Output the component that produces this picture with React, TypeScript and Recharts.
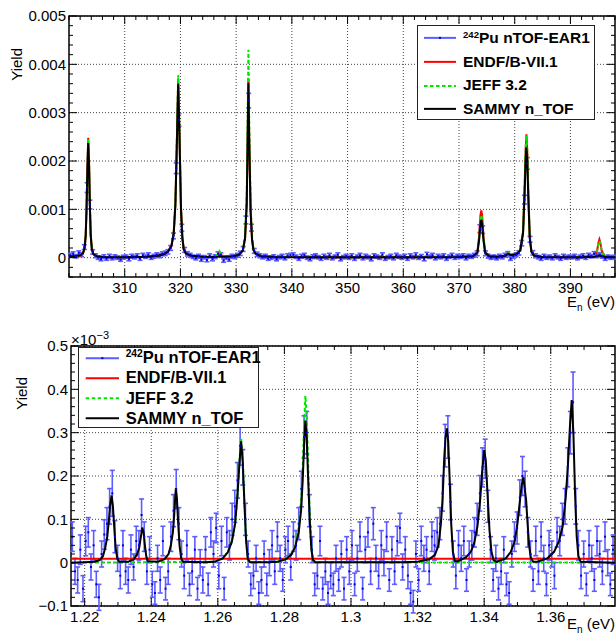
import React from "react";
import {
  CartesianGrid,
  ComposedChart,
  ErrorBar,
  Legend,
  Line,
  ReferenceArea,
  Scatter,
  XAxis,
  YAxis,
} from "recharts";

const FONT = '"Liberation Sans", Arial, Helvetica, sans-serif';

const DATA_BAR = "#5c5cff";
const DATA_DOT = "#0000dd";
const ENDF_COLOR = "#ff0000";
const JEFF_COLOR = "#00e600";
const SAMMY_COLOR = "#000000";

// ---------- top panel (300-398 eV), yields in units of 1e-3 ----------
const TOP_BIN_START = 300.25;
const TOP_BIN_WIDTH = 0.5;

const TOP_YIELD = [
  0.05, 0.08, 0.03, 0.10, 0.06, 0.22, 1.45, 1.10, 0.12, 0.04, 0.00, -0.03, 0.02, -0.02, 0.03, -0.01, 0.02, 0.00, -0.04, 0.01,
  0.02, -0.03, 0.03, 0.01, 0.04, -0.02, 0.05, 0.02, 0.06, 0.00, 0.03, 0.06, 0.04, 0.08, 0.09, 0.12, 0.20, 0.45, 1.85, 2.85,
  0.62, 0.16, 0.08, 0.05, 0.02, -0.01, 0.03, -0.04, 0.01, -0.05, 0.04, -0.03, 0.02, 0.08, 0.06, -0.06, 0.00, -0.04, 0.03, 0.02,
  0.05, 0.09, 0.18, 0.78, 3.25, 0.62, 0.14, 0.07, 0.04, 0.01, 0.03, -0.02, 0.00, 0.02, -0.03, 0.01, 0.03, -0.01, 0.04, 0.05,
  0.06, 0.02, -0.02, 0.03, 0.05, 0.00, -0.03, 0.02, 0.04, 0.01, -0.02, 0.03, 0.00, 0.05, -0.01, 0.02, 0.06, -0.03, 0.01, 0.03,
  0.00, 0.04, -0.02, 0.02, 0.05, -0.01, 0.03, 0.01, -0.03, 0.04, 0.02, 0.00, 0.06, -0.02, 0.01, 0.03, -0.01, 0.05, 0.02, 0.00,
  0.03, -0.02, 0.04, 0.01, 0.06, 0.00, 0.03, -0.03, 0.07, 0.02, 0.05, -0.01, 0.03, 0.01, 0.04, -0.02, 0.02, 0.05, 0.00, 0.03,
  0.02, 0.04, -0.01, 0.03, 0.02, 0.05, 0.09, 0.60, 0.58, 0.09, 0.03, 0.00, 0.02, -0.01, 0.03, 0.01, 0.05, 0.08, -0.02, 0.03,
  0.06, 0.10, 0.30, 1.20, 1.95, 0.38, 0.10, 0.04, 0.01, -0.02, 0.03, 0.00, 0.02, -0.01, 0.04, 0.01, -0.02, 0.03, 0.00, 0.02,
  0.01, 0.03, -0.01, 0.02, 0.04, 0.00, 0.05, 0.03, 0.08, 0.04, 0.06, 0.03, -0.02, 0.02, 0.00, 0.01,
];

const TOP_ERR = [
  0.04, 0.04, 0.035, 0.04, 0.04, 0.05, 0.1, 0.09, 0.045, 0.04, 0.035, 0.035, 0.04, 0.035, 0.04, 0.035, 0.04, 0.035, 0.035, 0.04,
  0.035, 0.035, 0.04, 0.035, 0.04, 0.035, 0.04, 0.035, 0.04, 0.035, 0.04, 0.04, 0.04, 0.04, 0.045, 0.045, 0.05, 0.06, 0.11, 0.13,
  0.07, 0.05, 0.045, 0.04, 0.035, 0.035, 0.04, 0.035, 0.035, 0.035, 0.04, 0.035, 0.04, 0.04, 0.04, 0.035, 0.035, 0.035, 0.04, 0.04,
  0.04, 0.045, 0.05, 0.08, 0.15, 0.07, 0.05, 0.045, 0.04, 0.035, 0.04, 0.035, 0.035, 0.04, 0.035, 0.035, 0.04, 0.035, 0.04, 0.04,
  0.04, 0.035, 0.035, 0.04, 0.04, 0.035, 0.035, 0.04, 0.04, 0.035, 0.035, 0.04, 0.035, 0.04, 0.035, 0.035, 0.04, 0.035, 0.035, 0.04,
  0.035, 0.04, 0.035, 0.035, 0.04, 0.035, 0.04, 0.035, 0.035, 0.04, 0.035, 0.035, 0.04, 0.035, 0.035, 0.04, 0.035, 0.04, 0.035, 0.035,
  0.04, 0.035, 0.04, 0.035, 0.04, 0.035, 0.035, 0.035, 0.04, 0.035, 0.04, 0.035, 0.04, 0.035, 0.04, 0.035, 0.035, 0.04, 0.035, 0.04,
  0.035, 0.04, 0.035, 0.04, 0.035, 0.04, 0.05, 0.08, 0.08, 0.05, 0.04, 0.035, 0.035, 0.035, 0.04, 0.035, 0.04, 0.045, 0.035, 0.04,
  0.04, 0.045, 0.055, 0.09, 0.12, 0.06, 0.045, 0.04, 0.035, 0.035, 0.04, 0.035, 0.035, 0.035, 0.04, 0.035, 0.035, 0.04, 0.035, 0.035,
  0.035, 0.04, 0.035, 0.035, 0.04, 0.035, 0.04, 0.035, 0.045, 0.04, 0.045, 0.04, 0.035, 0.035, 0.035, 0.04,
];

// [E, SAMMY, ENDF, JEFF]
const TOP_CURVE: [number, number, number, number][] = [
  [300.0, 0.03, 0.02, 0.02], [301.0, 0.03, 0.02, 0.02], [302.0, 0.05, 0.04, 0.04],
  [302.5, 0.09, 0.08, 0.08], [302.8, 0.2, 0.2, 0.2], [303.0, 0.45, 0.48, 0.47],
  [303.15, 1.0, 1.05, 1.03], [303.3, 1.8, 1.9, 1.86], [303.45, 2.37, 2.48, 2.45],
  [303.6, 1.9, 2.0, 1.97], [303.75, 1.05, 1.1, 1.08], [303.9, 0.45, 0.48, 0.47],
  [304.1, 0.18, 0.19, 0.19], [304.4, 0.07, 0.07, 0.07], [305.0, 0.03, 0.03, 0.03],
  [306.0, 0.015, 0.015, 0.015], [310.0, 0.01, 0.01, 0.01], [314.0, 0.02, 0.02, 0.02],
  [316.0, 0.04, 0.04, 0.04], [317.0, 0.07, 0.07, 0.07], [317.8, 0.13, 0.13, 0.13],
  [318.4, 0.25, 0.26, 0.26], [318.8, 0.5, 0.52, 0.53], [319.1, 1.1, 1.13, 1.15],
  [319.35, 2.3, 2.36, 2.4], [319.6, 3.6, 3.7, 3.78], [319.85, 2.4, 2.46, 2.5],
  [320.1, 1.0, 1.03, 1.05], [320.35, 0.4, 0.41, 0.42], [320.6, 0.17, 0.17, 0.17],
  [321.0, 0.08, 0.08, 0.08], [322.0, 0.04, 0.04, 0.04], [324.0, 0.02, 0.02, 0.02],
  [326.0, 0.015, 0.02, 0.02], [326.7, 0.02, 0.05, 0.06], [327.0, 0.03, 0.1, 0.13],
  [327.3, 0.02, 0.05, 0.06], [328.0, 0.02, 0.02, 0.02], [329.5, 0.03, 0.03, 0.03],
  [330.5, 0.06, 0.06, 0.06], [331.2, 0.15, 0.15, 0.16], [331.6, 0.4, 0.41, 0.47],
  [331.9, 1.1, 1.13, 1.3], [332.05, 2.3, 2.36, 2.7], [332.2, 3.62, 3.7, 4.3],
  [332.35, 2.4, 2.46, 2.85], [332.6, 0.95, 0.97, 1.12], [332.85, 0.38, 0.39, 0.44],
  [333.1, 0.16, 0.16, 0.18], [333.5, 0.08, 0.08, 0.08], [334.5, 0.03, 0.03, 0.03],
  [337.0, 0.015, 0.015, 0.015], [345.0, 0.01, 0.01, 0.01], [360.0, 0.01, 0.01, 0.01],
  [370.0, 0.015, 0.015, 0.015], [372.5, 0.03, 0.03, 0.03], [373.3, 0.1, 0.12, 0.11],
  [373.6, 0.35, 0.43, 0.39], [373.85, 0.7, 0.88, 0.8], [374.0, 0.78, 0.98, 0.88],
  [374.15, 0.7, 0.88, 0.8], [374.4, 0.35, 0.43, 0.39], [374.7, 0.1, 0.12, 0.11],
  [375.5, 0.03, 0.03, 0.03], [377.0, 0.02, 0.02, 0.02], [378.3, 0.04, 0.04, 0.04],
  [378.8, 0.08, 0.1, 0.1], [379.3, 0.05, 0.06, 0.06], [380.3, 0.07, 0.07, 0.07],
  [381.0, 0.15, 0.16, 0.16], [381.5, 0.5, 0.55, 0.55], [381.8, 1.4, 1.55, 1.55],
  [381.95, 2.0, 2.22, 2.22], [382.1, 2.28, 2.55, 2.53], [382.25, 2.0, 2.22, 2.22],
  [382.45, 1.2, 1.33, 1.33], [382.7, 0.4, 0.44, 0.44], [383.0, 0.12, 0.13, 0.13],
  [383.5, 0.04, 0.04, 0.04], [385.0, 0.015, 0.015, 0.015], [392.0, 0.01, 0.01, 0.01],
  [394.3, 0.02, 0.03, 0.03], [394.8, 0.03, 0.15, 0.14], [395.05, 0.04, 0.32, 0.3],
  [395.2, 0.05, 0.38, 0.35], [395.35, 0.04, 0.32, 0.3], [395.6, 0.03, 0.15, 0.14],
  [396.1, 0.02, 0.03, 0.03], [398.0, 0.01, 0.01, 0.01],
];

// ---------- bottom panel (1.216-1.379), yields in units of 1e-3 ----------
const BOT_BIN_START = 1.2163;
const BOT_BIN_WIDTH = 0.0008;

const BOT_YIELD = [
  0.06, -0.02, -0.04, 0.03, -0.06, 0.05, 0.07, -0.01, 0.04, -0.05, -0.08, 0.02, 0.065, 0.09, 0.13, 0.16, 0.06, 0.01, -0.03, 0.04, -0.02, -0.04, 0.03, -0.01, 0.05,
  0.04, 0.11, 0.06, -0.02, 0.03, -0.05, -0.07, 0.01, -0.04, 0.05, -0.06, -0.02, 0.06, 0.12, 0.17, 0.09, 0.02, -0.03, 0.04, -0.05, -0.02, 0.03, -0.06, 0.00, -0.04,
  0.03, -0.05, 0.07, 0.02, 0.08, -0.03, 0.05, -0.06, 0.07, 0.04, 0.10, 0.13, 0.19, 0.27, 0.22, 0.10, 0.02, -0.05, -0.03, 0.01, -0.07, -0.04, 0.02, -0.05, 0.00,
  0.04, -0.02, 0.06, 0.01, -0.04, 0.03, 0.05, -0.01, 0.06, 0.04, 0.09, 0.17, 0.29, 0.30, 0.12, 0.03, -0.05, -0.03, 0.05, -0.06, -0.02, -0.07, -0.03, -0.05, 0.01,
  -0.04, 0.02, -0.06, 0.03, -0.02, 0.04, -0.05, 0.01, 0.06, -0.06, 0.03, 0.07, -0.02, 0.09, 0.01, -0.03, 0.04, 0.00, 0.06, -0.04, 0.03, -0.02, 0.05, 0.08, -0.01,
  0.03, -0.03, -0.07, -0.09, 0.02, -0.04, 0.05, 0.01, 0.03, -0.02, 0.06, 0.04, 0.07, 0.09, 0.16, 0.27, 0.29, 0.14, 0.02, -0.03, 0.04, 0.01, 0.05, -0.04, 0.02,
  0.04, 0.07, 0.10, 0.16, 0.22, 0.24, 0.13, 0.03, -0.04, 0.01, -0.06, -0.02, 0.03, -0.05, -0.07, 0.02, 0.06, 0.08, 0.15, 0.20, 0.17, 0.07, 0.02, -0.04, 0.05,
  -0.02, 0.06, 0.01, -0.05, 0.04, 0.02, -0.03, 0.07, 0.05, 0.10, 0.13, 0.22, 0.30, 0.37, 0.13, 0.04, -0.03, 0.02, -0.05, 0.04, 0.01, -0.04, 0.05, 0.02, -0.02,
  0.06, 0.00, -0.05, 0.03,
];

const BOT_ERR = [
  0.034, 0.03, 0.03, 0.034, 0.03, 0.034, 0.034, 0.03, 0.034, 0.03, 0.03, 0.03, 0.034, 0.037, 0.041, 0.053, 0.037, 0.03, 0.03, 0.034, 0.03, 0.03, 0.034, 0.03, 0.034,
  0.034, 0.037, 0.034, 0.03, 0.03, 0.03, 0.026, 0.03, 0.03, 0.034, 0.026, 0.03, 0.034, 0.037, 0.045, 0.037, 0.03, 0.03, 0.034, 0.026, 0.03, 0.03, 0.026, 0.03, 0.03,
  0.03, 0.026, 0.034, 0.03, 0.034, 0.03, 0.034, 0.026, 0.034, 0.034, 0.037, 0.037, 0.041, 0.045, 0.041, 0.037, 0.03, 0.026, 0.03, 0.03, 0.026, 0.03, 0.03, 0.026, 0.03,
  0.034, 0.03, 0.034, 0.03, 0.026, 0.03, 0.034, 0.03, 0.034, 0.034, 0.037, 0.041, 0.049, 0.049, 0.037, 0.03, 0.026, 0.03, 0.034, 0.026, 0.03, 0.026, 0.03, 0.026, 0.03,
  0.026, 0.03, 0.026, 0.03, 0.03, 0.034, 0.026, 0.03, 0.034, 0.026, 0.03, 0.034, 0.03, 0.037, 0.03, 0.03, 0.034, 0.03, 0.034, 0.026, 0.03, 0.03, 0.034, 0.034, 0.03,
  0.03, 0.03, 0.026, 0.026, 0.03, 0.026, 0.034, 0.03, 0.03, 0.03, 0.034, 0.034, 0.034, 0.037, 0.041, 0.049, 0.049, 0.041, 0.03, 0.03, 0.034, 0.03, 0.034, 0.026, 0.03,
  0.034, 0.034, 0.037, 0.041, 0.045, 0.045, 0.037, 0.03, 0.026, 0.03, 0.026, 0.03, 0.03, 0.026, 0.026, 0.03, 0.034, 0.037, 0.041, 0.045, 0.041, 0.034, 0.03, 0.026, 0.034,
  0.03, 0.034, 0.03, 0.026, 0.034, 0.03, 0.03, 0.034, 0.034, 0.037, 0.041, 0.045, 0.049, 0.07, 0.041, 0.034, 0.03, 0.03, 0.026, 0.034, 0.03, 0.026, 0.034, 0.03, 0.03,
  0.034, 0.03, 0.026, 0.034,
];

const BOT_SAMMY: [number, number][] = [
  [1.2159, 0], [1.22, 0.001], [1.223, 0.002], [1.2245, 0.006], [1.2255, 0.015], [1.2262, 0.035],
  [1.2268, 0.06], [1.2273, 0.1], [1.2277, 0.135], [1.2281, 0.155], [1.2285, 0.13], [1.2289, 0.08],
  [1.2293, 0.035], [1.2298, 0.01], [1.2304, 0.002],
  [1.233, 0.002], [1.2348, 0.008], [1.2358, 0.02], [1.2364, 0.035], [1.2369, 0.06], [1.2373, 0.081],
  [1.2377, 0.07], [1.2381, 0.04], [1.2385, 0.015], [1.239, 0.003],
  [1.242, 0.002], [1.244, 0.008], [1.2452, 0.02], [1.2459, 0.04], [1.2465, 0.07], [1.2469, 0.11],
  [1.2472, 0.15], [1.2474, 0.172], [1.2477, 0.15], [1.2481, 0.09], [1.2485, 0.04], [1.249, 0.01], [1.2496, 0.002],
  [1.256, 0.001], [1.259, 0.002], [1.2615, 0.01], [1.263, 0.024], [1.2642, 0.048], [1.2652, 0.09],
  [1.2659, 0.155], [1.2665, 0.23], [1.267, 0.28], [1.2675, 0.23], [1.268, 0.135], [1.2685, 0.05],
  [1.269, 0.008], [1.2697, 0.001],
  [1.275, 0.001], [1.278, 0.002], [1.2805, 0.008], [1.282, 0.018], [1.2832, 0.035], [1.2843, 0.07],
  [1.285, 0.12], [1.2855, 0.19], [1.2859, 0.27], [1.2863, 0.328], [1.2867, 0.29], [1.2871, 0.2],
  [1.2876, 0.1], [1.2881, 0.03], [1.2886, 0.006], [1.2893, 0.001],
  [1.315, 0.001], [1.32, 0.002], [1.3235, 0.008], [1.3252, 0.018], [1.3263, 0.04], [1.327, 0.09],
  [1.3275, 0.145], [1.328, 0.24], [1.3284, 0.29], [1.3288, 0.31], [1.3292, 0.28], [1.3296, 0.2],
  [1.3301, 0.09], [1.3306, 0.025], [1.3312, 0.004], [1.332, 0.003],
  [1.3345, 0.012], [1.336, 0.025], [1.337, 0.045], [1.338, 0.085], [1.3388, 0.145], [1.3394, 0.21],
  [1.34, 0.26], [1.3405, 0.235], [1.341, 0.16], [1.3416, 0.075], [1.3422, 0.025], [1.3428, 0.006], [1.3437, 0.002],
  [1.3465, 0.01], [1.348, 0.025], [1.3492, 0.05], [1.35, 0.09], [1.3507, 0.14], [1.3513, 0.18],
  [1.3518, 0.197], [1.3522, 0.17], [1.3526, 0.145], [1.353, 0.095], [1.3535, 0.04], [1.354, 0.012], [1.3547, 0.002],
  [1.356, 0.002], [1.359, 0.01], [1.361, 0.025], [1.3625, 0.05], [1.3636, 0.085], [1.3645, 0.15],
  [1.3652, 0.23], [1.3658, 0.32], [1.3663, 0.375], [1.3668, 0.3], [1.3673, 0.16], [1.3678, 0.06],
  [1.3683, 0.015], [1.369, 0.002], [1.3793, 0],
];

const BOT_JEFF: [number, number][] = [
  [1.2159, 0], [1.259, 0.002], [1.2615, 0.01], [1.263, 0.025], [1.2642, 0.05], [1.2652, 0.092],
  [1.2659, 0.158], [1.2665, 0.235], [1.267, 0.287], [1.2675, 0.235], [1.268, 0.138], [1.2685, 0.05],
  [1.269, 0.008], [1.2697, 0.001], [1.278, 0.002], [1.2805, 0.009], [1.282, 0.02], [1.2832, 0.04],
  [1.2843, 0.08], [1.285, 0.14], [1.2855, 0.22], [1.2859, 0.315], [1.2863, 0.385], [1.2867, 0.34],
  [1.2871, 0.235], [1.2876, 0.115], [1.2881, 0.035], [1.2886, 0.007], [1.2893, 0.001], [1.3793, 0],
];

const BOT_ENDF: [number, number][] = [
  [1.2159, 0.009], [1.26, 0.009], [1.3, 0.009], [1.3793, 0.009],
];

const LEGEND_ITEMS = [
  { sup: "242", label: "Pu nTOF-EAR1", color: DATA_BAR, dash: "", dot: true },
  { sup: "", label: "ENDF/B-VII.1", color: ENDF_COLOR, dash: "", dot: false },
  { sup: "", label: "JEFF 3.2", color: JEFF_COLOR, dash: "3.5 2.5", dot: false },
  { sup: "", label: "SAMMY n_TOF", color: SAMMY_COLOR, dash: "", dot: false },
];

const TOP_X_MAJOR = [310, 320, 330, 340, 350, 360, 370, 380, 390];
const TOP_Y_MAJOR = [0, 1, 2, 3, 4, 5];
const BOT_X_MAJOR = [1.22, 1.24, 1.26, 1.28, 1.3, 1.32, 1.34, 1.36];
const BOT_Y_MAJOR = [-0.1, 0, 0.1, 0.2, 0.3, 0.4, 0.5];

function steps(from: number, to: number, step: number) {
  const out: number[] = [];
  for (let i = 0; from + i * step <= to + 1e-9; i++) {
    out.push(Math.round((from + i * step) * 1e6) / 1e6);
  }
  return out;
}

const TOP_X_MINOR = steps(300, 398, 2);
const TOP_Y_MINOR = steps(-0.4, 5, 0.2);
const BOT_X_MINOR = steps(1.22, 1.375, 0.005);
const BOT_Y_MINOR = steps(-0.1, 0.5, 0.02);

const topPoints = TOP_YIELD.map((y, i) => ({
  x: TOP_BIN_START + i * TOP_BIN_WIDTH,
  y,
  err: TOP_ERR[i],
}));
const topCurve = TOP_CURVE.map(([x, sammy, endf, jeff]) => ({ x, sammy, endf, jeff }));

const botPoints = BOT_YIELD.map((y, i) => ({
  x: BOT_BIN_START + i * BOT_BIN_WIDTH,
  y,
  err: BOT_ERR[i],
}));
const botSammy = BOT_SAMMY.map(([x, v]) => ({ x, v }));
const botJeff = BOT_JEFF.map(([x, v]) => ({ x, v }));
const botEndf = BOT_ENDF.map(([x, v]) => ({ x, v }));

const isMajor = (list: number[], v: number) => list.some((m) => Math.abs(m - v) < 1e-7);

function LegendBox({ w, h, fontSize, lineX0, lineX1, textX }: any) {
  const rowH = h / LEGEND_ITEMS.length;
  return (
    <div
      style={{
        width: w,
        height: h,
        boxSizing: "border-box",
        border: "1px solid #222",
        background: "#fff",
        fontFamily: FONT,
        fontWeight: 700,
        fontSize,
        color: "#000",
      }}
    >
      {LEGEND_ITEMS.map((it) => (
        <div key={it.label} style={{ display: "flex", alignItems: "center", height: rowH, whiteSpace: "nowrap" }}>
          <svg width={textX} height={rowH} style={{ flex: "none", display: "block" }}>
            <line
              x1={lineX0}
              x2={lineX1}
              y1={rowH / 2}
              y2={rowH / 2}
              stroke={it.color}
              strokeWidth={2}
              strokeDasharray={it.dash || undefined}
            />
            {it.dot && <rect x={(lineX0 + lineX1) / 2 - 1} y={rowH / 2 - 1} width={2} height={2} fill={DATA_DOT} />}
          </svg>
          <span>
            {it.sup && <span style={{ fontSize: "0.62em", verticalAlign: "0.55em" }}>{it.sup}</span>}
            {it.label}
          </span>
        </div>
      ))}
    </div>
  );
}

function Panel(p: any) {
  const { width, height, margin, axisW, axisH } = p;
  const plotW = width - margin.left - margin.right - axisW;
  const plotH = height - margin.top - margin.bottom - axisH;

  const xTick = (t: any) => {
    const { x, y, payload } = t;
    const major = isMajor(p.xMajor, payload.value);
    const len = major ? 8 : 4;
    return (
      <g>
        <line x1={x} x2={x} y1={y} y2={y - len} stroke="#000" />
        <line x1={x} x2={x} y1={y - plotH} y2={y - plotH + len} stroke="#000" />
        {major && (
          <text x={x} y={y + 16} textAnchor="middle" fontFamily={FONT} fontSize={15} fill="#000">
            {p.xFmt(payload.value)}
          </text>
        )}
      </g>
    );
  };

  const yTick = (t: any) => {
    const { x, y, payload } = t;
    const major = isMajor(p.yMajor, payload.value);
    const len = major ? 8 : 4;
    return (
      <g>
        <line x1={x} x2={x + len} y1={y} y2={y} stroke="#000" />
        <line x1={x + plotW} x2={x + plotW - len} y1={y} y2={y} stroke="#000" />
        {major && (
          <text x={x - 3} y={y} dy="0.36em" textAnchor="end" fontFamily={FONT} fontSize={15} fill="#000">
            {p.yFmt(payload.value)}
          </text>
        )}
      </g>
    );
  };

  const xLabel = (l: any) => {
    const vb = l.viewBox;
    return (
      <text x={vb.x + vb.width} y={vb.y + p.xTitleDy} textAnchor="end" fontFamily={FONT} fontSize={15} fill="#000">
        E<tspan dy={4} fontSize={10}>n</tspan>
        <tspan dy={-4}> (eV)</tspan>
      </text>
    );
  };

  const yLabel = (l: any) => {
    const vb = l.viewBox;
    const tx = vb.x + p.yieldDx;
    const ty = vb.y + p.yieldDy;
    return (
      <g>
        <text
          x={tx}
          y={ty}
          transform={`rotate(-90 ${tx} ${ty})`}
          textAnchor="end"
          fontFamily={FONT}
          fontSize={15}
          fill="#000"
        >
          Yield
        </text>
        {p.exponent && (
          <text x={vb.x + vb.width} y={vb.y - 1} fontFamily={FONT} fontSize={15} fill="#000">
            ×10<tspan dy={-6} fontSize={11}>−3</tspan>
          </text>
        )}
      </g>
    );
  };

  return (
    <ComposedChart width={width} height={height} margin={margin}>
      <CartesianGrid
        verticalValues={p.xMajor}
        horizontalValues={p.yMajor}
        stroke="#444"
        strokeDasharray="1 2"
      />
      <XAxis
        type="number"
        dataKey="x"
        domain={p.xDomain}
        allowDataOverflow
        ticks={p.xMinor}
        interval={0}
        height={axisH}
        tickSize={0}
        tickMargin={0}
        tickLine={false}
        axisLine={false}
        tick={xTick}
        label={xLabel}
      />
      <YAxis
        type="number"
        domain={p.yDomain}
        allowDataOverflow
        ticks={p.yMinor}
        interval={0}
        width={axisW}
        tickSize={0}
        tickMargin={0}
        tickLine={false}
        axisLine={false}
        tick={yTick}
        label={yLabel}
      />
      <Scatter
        data={p.points}
        dataKey="y"
        fill={DATA_DOT}
        isAnimationActive={false}
        shape={(s: any) => <rect x={s.cx - 1} y={s.cy - 1} width={2} height={2} fill={DATA_DOT} />}
      >
        <ErrorBar dataKey="err" direction="y" width={2.5} stroke={DATA_BAR} strokeWidth={1.6} isAnimationActive={false} />
      </Scatter>
      {p.curves.map((c: any) => (
        <Line
          key={c.name}
          data={c.data}
          dataKey={c.key}
          type="linear"
          stroke={c.color}
          strokeWidth={2}
          strokeDasharray={c.dash}
          dot={false}
          activeDot={false}
          isAnimationActive={false}
        />
      ))}
      <ReferenceArea
        x1={p.xDomain[0]}
        x2={p.xDomain[1]}
        y1={p.yDomain[0]}
        y2={p.yDomain[1]}
        fill="none"
        stroke="#000"
        strokeWidth={1.5}
        ifOverflow="visible"
      />
      <Legend
        layout="vertical"
        align="center"
        verticalAlign="middle"
        wrapperStyle={{ left: p.legend.left, top: p.legend.top, width: p.legend.w, height: p.legend.h }}
        content={() => <LegendBox {...p.legend} />}
      />
    </ComposedChart>
  );
}

export default function App() {
  return (
    <div style={{ position: "absolute", left: 0, top: 0, width: 616, height: 635, background: "#fff" }}>
      <div style={{ position: "absolute", left: 0, top: 0 }}>
        <Panel
          width={616}
          height={312}
          margin={{ top: 16, right: 1, bottom: 0, left: 0 }}
          axisW={69}
          axisH={35}
          xDomain={[300, 398]}
          yDomain={[-0.4, 5]}
          xMinor={TOP_X_MINOR}
          xMajor={TOP_X_MAJOR}
          yMinor={TOP_Y_MINOR}
          yMajor={TOP_Y_MAJOR}
          xFmt={(v: number) => String(v)}
          yFmt={(v: number) => (v === 0 ? "0" : (v / 1000).toFixed(3))}
          points={topPoints}
          curves={[
            { name: "endf", data: topCurve, key: "endf", color: ENDF_COLOR },
            { name: "jeff", data: topCurve, key: "jeff", color: JEFF_COLOR, dash: "3.5 2.5" },
            { name: "sammy", data: topCurve, key: "sammy", color: SAMMY_COLOR },
          ]}
          legend={{ left: 417, top: 25, w: 178, h: 95, fontSize: 15.5, lineX0: 6, lineX1: 38, textX: 45 }}
          xTitleDy={30}
          yieldDx={22}
          yieldDy={32}
          exponent={false}
        />
      </div>
      <div style={{ position: "absolute", left: 0, top: 300 }}>
        <Panel
          width={616}
          height={335}
          margin={{ top: 46, right: 1, bottom: 0, left: 0 }}
          axisW={71}
          axisH={29}
          xDomain={[1.2159, 1.3793]}
          yDomain={[-0.1, 0.5]}
          xMinor={BOT_X_MINOR}
          xMajor={BOT_X_MAJOR}
          yMinor={BOT_Y_MINOR}
          yMajor={BOT_Y_MAJOR}
          xFmt={(v: number) => String(parseFloat(v.toFixed(2)))}
          yFmt={(v: number) => (Math.abs(v) < 1e-9 ? "0" : v < 0 ? "−" + Math.abs(v).toFixed(1) : v.toFixed(1))}
          points={botPoints}
          curves={[
            { name: "endf", data: botEndf, key: "v", color: ENDF_COLOR },
            { name: "jeff", data: botJeff, key: "v", color: JEFF_COLOR, dash: "3.5 2.5" },
            { name: "sammy", data: botSammy, key: "v", color: SAMMY_COLOR },
          ]}
          legend={{ left: 78, top: 46.5, w: 181, h: 81, fontSize: 16.5, lineX0: 6.7, lineX1: 40, textX: 46.7 }}
          xTitleDy={23}
          yieldDx={27}
          yieldDy={31}
          exponent={true}
        />
      </div>
    </div>
  );
}
